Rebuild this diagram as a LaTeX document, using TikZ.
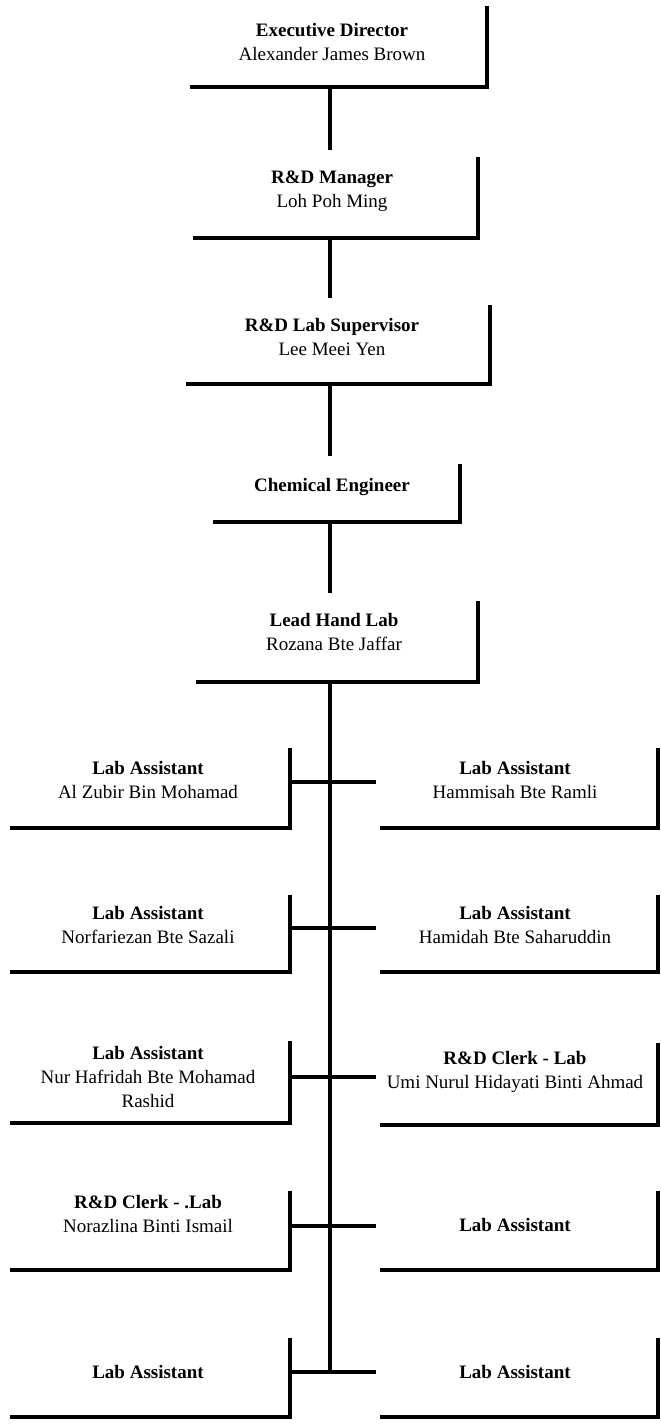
\documentclass[tikz,border=0pt]{standalone}
\usepackage{fontspec}
\setmainfont{Liberation Serif}
\begin{document}
\begin{tikzpicture}[x=1pt,y=-1pt,
  box/.style={rectangle,draw=none,inner sep=0pt,outer sep=0pt},
  boxline/.style={line width=4.5pt,line cap=rect,line join=miter},
  conn/.style={line width=3.5pt},
  txt/.style={align=center,inner sep=0pt,font=\fontsize{19}{24}\selectfont}]
\useasboundingbox[fill=white] (0,0) rectangle (661,1427);
\coordinate (sp) at (330,0);
\coordinate (br) at (376,0);
% top chain boxes
\node[box,minimum width=295pt,minimum height=79pt] (exec) at (339.5,47.5) {};
\node[box,minimum width=283pt,minimum height=79pt] (mgr) at (336.5,198.5) {};
\node[box,minimum width=302pt,minimum height=77pt] (sup) at (339,345.5) {};
\node[box,minimum width=245pt,minimum height=56pt] (chem) at (337.5,494) {};
\node[box,minimum width=280pt,minimum height=79pt] (lead) at (338,642.5) {};
% side boxes
\node[box,minimum width=278pt,minimum height=78pt] (l1) at (151,789) {};
\node[box,minimum width=276pt,minimum height=78pt] (r1) at (520,789) {};
\node[box,minimum width=278pt,minimum height=75pt] (l2) at (151,934.5) {};
\node[box,minimum width=276pt,minimum height=75pt] (r2) at (520,934.5) {};
\node[box,minimum width=278pt,minimum height=80pt] (l3) at (151,1083) {};
\node[box,minimum width=276pt,minimum height=80pt] (r3) at (520,1085) {};
\node[box,minimum width=278pt,minimum height=77pt] (l4) at (151,1231.5) {};
\node[box,minimum width=276pt,minimum height=77pt] (r4) at (520,1231.5) {};
\node[box,minimum width=278pt,minimum height=77pt] (l5) at (151,1378.5) {};
\node[box,minimum width=276pt,minimum height=77pt] (r5) at (520,1378.5) {};
% L-shaped box lines
\foreach \b in {exec,mgr,sup,chem,lead,l1,r1,l2,r2,l3,r3,l4,r4,l5,r5}
  \draw[boxline] (\b.south west) -- (\b.south east) -- (\b.north east);
% texts
\node[txt] (execT) at (332,41.5) {\textbf{Executive Director}\\Alexander James Brown};
\node[txt] (mgrT) at (332,191) {\textbf{R\&D Manager}\\Loh Poh Ming};
\node[txt] (supT) at (332,337) {\textbf{R\&D Lab Supervisor}\\Lee Meei Yen};
\node[txt] (chemT) at (332,487) {\textbf{Chemical Engineer}};
\node[txt] (leadT) at (334,632) {\textbf{Lead Hand Lab}\\Rozana Bte Jaffar};
\node[txt] (l1T) at (148,780) {\textbf{Lab Assistant}\\Al Zubir Bin Mohamad};
\node[txt] (r1T) at (515,780) {\textbf{Lab Assistant}\\Hammisah Bte Ramli};
\node[txt] (l2T) at (148,925) {\textbf{Lab Assistant}\\Norfariezan Bte Sazali};
\node[txt] (r2T) at (515,925) {\textbf{Lab Assistant}\\Hamidah Bte Saharuddin};
\node[txt] (l3T) at (148,1076.5) {\textbf{Lab Assistant}\\Nur Hafridah Bte Mohamad\\Rashid};
\node[txt] (r3T) at (515,1072) {\textbf{R\&D Clerk - Lab}\\Umi Nurul Hidayati Binti Ahmad};
\node[txt] (l4T) at (148,1213.5) {\textbf{R\&D Clerk - .Lab}\\Norazlina Binti Ismail};
\node[txt] (r4T) at (515,1225) {\textbf{Lab Assistant}};
\node[txt] (l5T) at (148,1372) {\textbf{Lab Assistant}};
\node[txt] (r5T) at (515,1372) {\textbf{Lab Assistant}};
% connectors in the chain
\draw[conn,shorten >=9pt] (exec.south -| sp) -- (mgr.north -| sp);
\draw[conn,shorten >=9pt] (mgr.south -| sp) -- (sup.north -| sp);
\draw[conn,shorten >=10pt] (sup.south -| sp) -- (chem.north -| sp);
\draw[conn,shorten >=10pt] (chem.south -| sp) -- (lead.north -| sp);
% branch points
\coordinate (b1) at (330,782);
\coordinate (b2) at (330,928);
\coordinate (b3) at (330,1077);
\coordinate (b4) at (330,1226);
\coordinate (b5) at (330,1372);
\draw[conn] (lead.south -| sp) -- (b5);
\draw[conn] (b1 -| l1.east) -- (b1 -| br);
\draw[conn] (b2 -| l2.east) -- (b2 -| br);
\draw[conn] (b3 -| l3.east) -- (b3 -| br);
\draw[conn] (b4 -| l4.east) -- (b4 -| br);
\draw[conn] (b5 -| l5.east) -- (b5 -| br);
\end{tikzpicture}
\end{document}
